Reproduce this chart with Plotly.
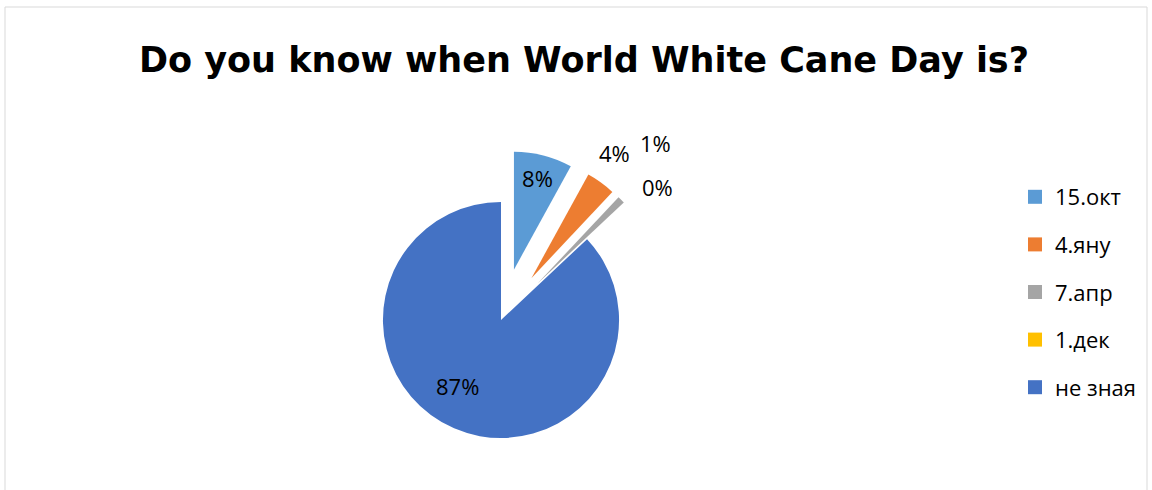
import math
import plotly.graph_objects as go

labels = ["15.окт", "4.яну", "7.апр", "1.дек", "не зная"]
values = [8, 4, 1, 0, 87]
colors = ["#5B9BD5", "#ED7D31", "#A5A5A5", "#FFC000", "#4472C4"]
title = "Do you know when World White Cane Day is?"

pulls = [0.44, 0.44, 0.44, 0.44, 0]
# plotly text for the 8% slice; the others are placed as annotations
textpos = ["inside", "none", "none", "none", "none"]
# label placement relative to each slice's bisector: distance (pie radii), angle nudge (deg)
label_radius = [None, 1.71, 1.99, 1.74, 0.67]
label_nudge = [None, -1.7, -4.0, 2.7, 10.0]

W, H = 1152, 490
T = 150
PH = H - T
CX, CY = 501, 320      # pie centre in pixels (from domain below)
R = 170 / (1 + max(pulls))  # plotly pie radius in pixels

fig = go.Figure()
fig.add_trace(go.Pie(
    labels=labels, values=values, marker=dict(colors=colors, line=dict(width=0)),
    sort=False, direction="clockwise", rotation=0, pull=pulls,
    textinfo="percent", textposition=textpos,
    insidetextorientation="horizontal",
    textfont=dict(family="Open Sans", size=22, color="#000000"),
    domain=dict(x=[(CX - 175) / W, (CX + 175) / W], y=[0, 1]),
    showlegend=False, hoverinfo="label+percent", automargin=False,
))

total = sum(values)
cum = 0
for v, rf, nd in zip(values, label_radius, label_nudge):
    mid = 2 * math.pi * (cum + v / 2) / total
    cum += v
    if rf is None:
        continue
    a = mid + math.radians(nd)
    px = CX + rf * R * math.sin(a)
    py = CY - rf * R * math.cos(a)
    fig.add_annotation(x=px / W, y=(H - py) / PH, xref="paper", yref="paper",
                       text=f"{round(100 * v / total)}%", showarrow=False,
                       xanchor="center", yanchor="middle",
                       font=dict(family="Open Sans", size=22, color="#000000"))

for l, c in zip(labels, colors):
    fig.add_trace(go.Scatter(
        x=[None], y=[None], mode="markers", name=l, legendgroup=l,
        marker=dict(symbol="square", size=14, color=c),
    ))

fig.add_shape(type="rect", xref="paper", yref="paper",
              x0=5 / W, x1=1147 / W, y0=-0.1, y1=(H - 7) / PH,
              line=dict(color="#D9D9D9", width=1), fillcolor="rgba(0,0,0,0)")

fig.update_layout(
    width=W, height=H,
    margin=dict(l=0, r=0, t=T, b=0, autoexpand=False),
    paper_bgcolor="white", plot_bgcolor="white",
    xaxis=dict(visible=False), yaxis=dict(visible=False),
    title=dict(text=title, x=584 / W, xanchor="center", yref="container",
               y=1 - 60 / H, yanchor="middle",
               font=dict(family="DejaVu Sans", size=35, color="#000000", weight="bold")),
    legend=dict(x=1015 / W, xanchor="left", y=(H - 292) / PH,
                yanchor="middle", font=dict(family="Open Sans", size=22, color="#000000"),
                tracegroupgap=16, itemclick=False),
)

fig.write_html("out.html")
